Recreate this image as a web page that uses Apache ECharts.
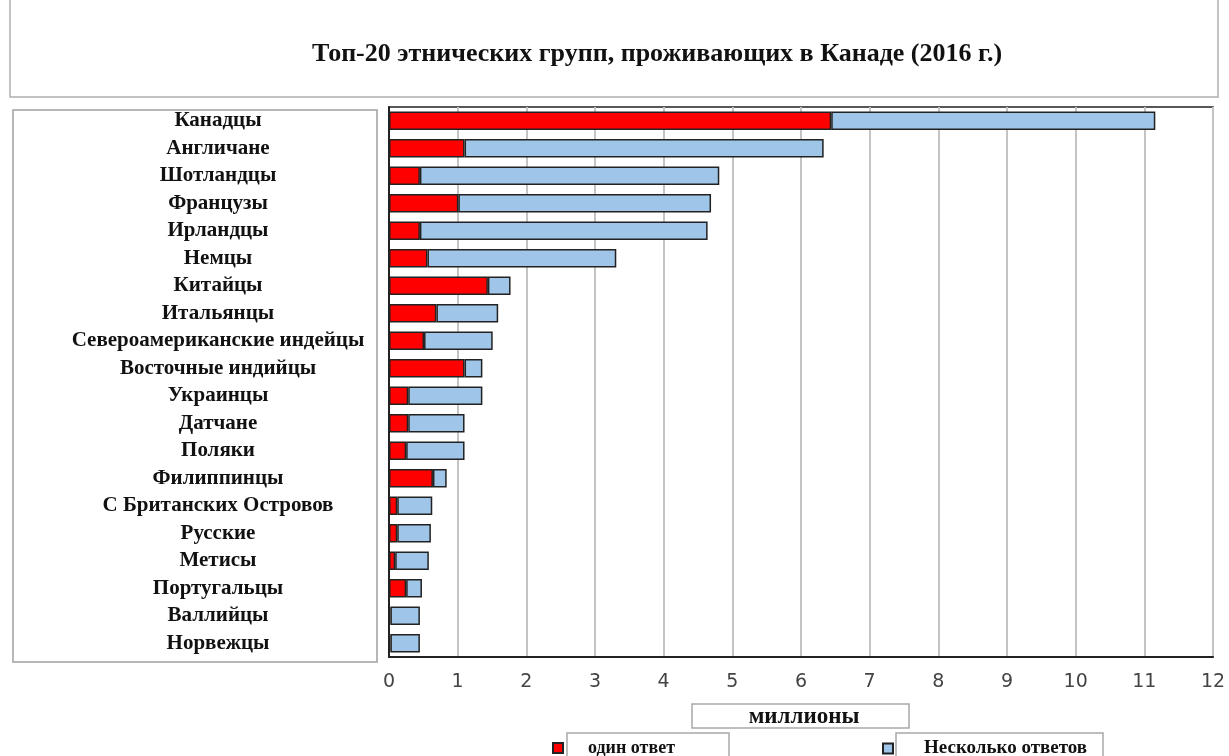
<!DOCTYPE html>
<html><head><meta charset="utf-8">
<script src="https://cdn.jsdelivr.net/npm/echarts@6/dist/echarts.min.js"></script>
<style>html,body{margin:0;padding:0;background:#fff}#c{width:1229px;height:756px}</style>
</head><body><div id="c"></div>
<script>
const categories = ['Канадцы','Англичане','Шотландцы','Французы','Ирландцы','Немцы','Китайцы','Итальянцы','Североамериканские индейцы','Восточные индийцы','Украинцы','Датчане','Поляки','Филиппинцы','С Британских Островов','Русские','Метисы','Португальцы','Валлийцы','Норвежцы'];
const singleResponse = [6.44,1.10,0.45,1.01,0.45,0.56,1.44,0.69,0.51,1.10,0.28,0.28,0.25,0.64,0.12,0.12,0.09,0.25,0.02,0.02];
const multipleResponses = [4.72,5.23,4.36,3.68,4.19,2.75,0.33,0.90,1.00,0.26,1.08,0.82,0.85,0.20,0.51,0.49,0.49,0.23,0.43,0.43];
const xTicks = [0,1,2,3,4,5,6,7,8,9,10,11,12];
const titleText = 'Топ-20 этнических групп, проживающих в Канаде (2016 г.)';
const axisName = 'миллионы';
const seriesNames = ['один ответ','Несколько ответов'];

const chart = echarts.init(document.getElementById('c'));
const serif = '"Liberation Serif", "DejaVu Serif", serif';
chart.setOption({
  animation: false,
  grid: {left: 389, right: 16, top: 107, bottom: 99, show: true, borderColor: '#222', borderWidth: 1.5, containLabel: false},
  xAxis: {type: 'value', min: xTicks[0], max: xTicks[xTicks.length-1], interval: 1,
    axisLine: {show: true, lineStyle: {color: '#222', width: 2}},
    axisTick: {show: false},
    axisLabel: {margin: 16, color: '#444', fontFamily: '"DejaVu Sans", Verdana, sans-serif', fontSize: 19},
    splitLine: {show: true, lineStyle: {color: '#c4c4c4', width: 2}}},
  yAxis: {type: 'category', data: categories, inverse: true,
    axisLine: {show: true, lineStyle: {color: '#222', width: 2}},
    axisTick: {show: false},
    axisLabel: {align: 'center', margin: 171, color: '#111', fontFamily: serif, fontWeight: 'bold', fontSize: 21}},
  legend: [
    {data: [seriesNames[0]], left: 552, top: 739, padding: 0, itemWidth: 10, itemHeight: 10, icon: 'rect',
      textStyle: {fontFamily: serif, fontWeight: 'bold', fontSize: 18, color: '#111', padding: [0,0,0,20]}},
    {data: [seriesNames[1]], left: 882, top: 739, padding: 0, itemWidth: 10, itemHeight: 10, icon: 'rect',
      textStyle: {fontFamily: serif, fontWeight: 'bold', fontSize: 19, color: '#111', padding: [0,0,0,26]}}
  ],
  series: [
    {name: seriesNames[0], type: 'bar', stack: 't', data: singleResponse, barWidth: '68%',
      itemStyle: {color: '#ff0000', borderColor: '#222', borderWidth: 1.5}},
    {name: seriesNames[1], type: 'bar', stack: 't', data: multipleResponses, barWidth: '68%',
      itemStyle: {color: '#9fc5e8', borderColor: '#222', borderWidth: 1.5}}
  ],
  graphic: [
    {type: 'rect', z: -1, shape: {x: 10, y: -2, width: 1208, height: 99}, style: {fill: '#fff', stroke: '#b0b0b0', lineWidth: 1.5}},
    {type: 'text', z: 5, x: 657, y: 54, style: {text: titleText, fontFamily: serif, fontWeight: 'bold', fontSize: 26, fill: '#111', align: 'center', verticalAlign: 'middle'}},
    {type: 'rect', z: -1, shape: {x: 13, y: 110, width: 364, height: 552}, style: {fill: '#fff', stroke: '#a0a0a0', lineWidth: 1.5}},
    {type: 'rect', z: -1, shape: {x: 692, y: 704, width: 217, height: 24}, style: {fill: '#fff', stroke: '#a8a8a8', lineWidth: 1.5}},
    {type: 'text', z: 5, x: 804, y: 717, style: {text: axisName, fontFamily: serif, fontWeight: 'bold', fontSize: 23, fill: '#111', align: 'center', verticalAlign: 'middle'}},
    {type: 'rect', z: -1, shape: {x: 567, y: 733, width: 162, height: 30}, style: {fill: '#fff', stroke: '#a8a8a8', lineWidth: 1.5}},
    {type: 'rect', z: -1, shape: {x: 896, y: 733, width: 207, height: 30}, style: {fill: '#fff', stroke: '#a8a8a8', lineWidth: 1.5}}
  ]
});
</script></body></html>
